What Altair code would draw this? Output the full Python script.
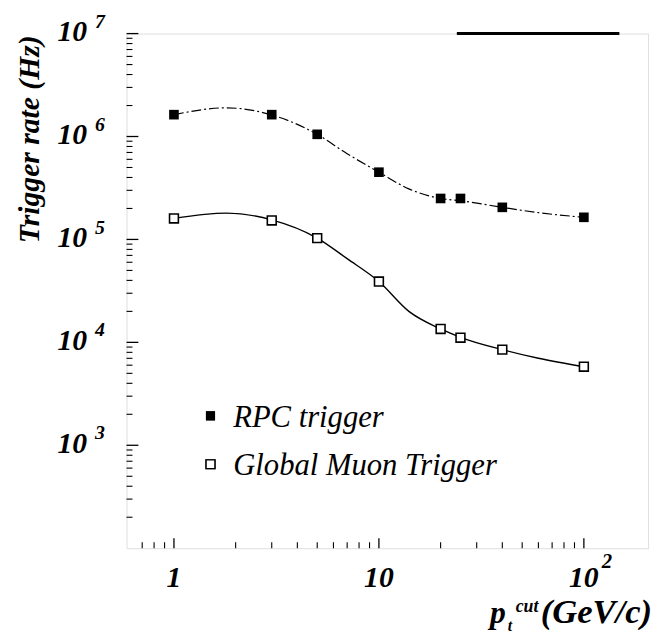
import altair as alt
import pandas as pd

# ---- data ----
pt_cut = [1, 3, 5, 10, 20, 25, 40, 100]
rpc_rate = [1.63e6, 1.63e6, 1.05e6, 4.5e5, 2.5e5, 2.5e5, 2.05e5, 1.64e5]
gmt_rate = [1.6e5, 1.53e5, 1.03e5, 3.9e4, 1.35e4, 1.11e4, 8.5e3, 5.8e3]

# smooth fitted curves
curve_x = [1, 1.8, 3, 5, 7, 10, 14, 20, 25, 40, 60, 100]
rpc_curve = [1.63e6, 1.9e6, 1.62e6, 1.05e6, 6.8e5, 4.5e5, 3.1e5, 2.5e5, 2.38e5, 2.05e5, 1.82e5, 1.64e5]
gmt_curve = [1.6e5, 1.8e5, 1.55e5, 1.03e5, 6.5e4, 3.9e4, 2.0e4, 1.35e4, 1.12e4, 8.5e3, 7.0e3, 5.8e3]

series_names = ["RPC trigger", "Global Muon Trigger"]

y_major = [1e3, 1e4, 1e5, 1e6, 1e7]
y_exp = ["3", "4", "5", "6", "7"]
y_minor = [m * 10 ** d for d in range(2, 7) for m in range(2, 10)]

x_major = [1, 10, 100]
x_base = ["1", "10", "10"]
x_exp = ["", "", "2"]
x_minor = [0.7, 0.8, 0.9] + [m * 10 ** d for d in range(0, 2) for m in range(2, 10)]

top_bar = [24, 149]

FONT = "Liberation Serif"
xs = alt.Scale(type="log", domain=[0.587, 205.7], nice=False)
ys = alt.Scale(type="log", domain=[100, 1e7], nice=False)

pts = pd.DataFrame({"x": pt_cut, "rpc": rpc_rate, "gmt": gmt_rate})
crv = pd.DataFrame({"x": curve_x, "rpc": rpc_curve, "gmt": gmt_curve})

X = alt.X("x:Q", scale=xs, axis=None)

rpc_line = alt.Chart(crv).mark_line(
    color="black", strokeWidth=1.2, strokeDash=[10, 3, 2, 3], interpolate="monotone"
).encode(x=X, y=alt.Y("rpc:Q", scale=ys, axis=None))
gmt_line = alt.Chart(crv).mark_line(
    color="black", strokeWidth=1.4, interpolate="monotone"
).encode(x=X, y=alt.Y("gmt:Q", scale=ys, axis=None))

rpc_pts = alt.Chart(pts).mark_point(
    shape="square", filled=True, color="black", size=95, opacity=1
).encode(x=X, y=alt.Y("rpc:Q", scale=ys, axis=None))
gmt_pts = alt.Chart(pts).mark_point(
    shape="square", filled=True, fill="white", stroke="black", strokeWidth=1.6, size=80, opacity=1
).encode(x=X, y=alt.Y("gmt:Q", scale=ys, axis=None))

# ticks drawn inside the frame
ymaj = pd.DataFrame({"v": y_major, "e": y_exp})
ymin = pd.DataFrame({"v": y_minor})
xmaj = pd.DataFrame({"v": x_major, "b": x_base, "e": x_exp})
xmin = pd.DataFrame({"v": x_minor})

ytick_major = alt.Chart(ymaj).mark_rule(color="black", strokeWidth=1.3).encode(
    y=alt.Y("v:Q", scale=ys, axis=None), x=alt.value(0), x2=alt.value(12))
ytick_minor = alt.Chart(ymin).mark_rule(color="black", strokeWidth=1.1).encode(
    y=alt.Y("v:Q", scale=ys, axis=None), x=alt.value(0), x2=alt.value(6))
xtick_major = alt.Chart(xmaj).mark_rule(color="black", strokeWidth=1.3).encode(
    x=alt.X("v:Q", scale=xs, axis=None), y=alt.value(521), y2=alt.value(511))
xtick_minor = alt.Chart(xmin).mark_rule(color="black", strokeWidth=1.1).encode(
    x=alt.X("v:Q", scale=xs, axis=None), y=alt.value(521), y2=alt.value(515))

# tick labels
ylab = alt.Chart(ymaj).mark_text(
    font=FONT, fontSize=30, fontStyle="italic", fontWeight="bold", align="right", baseline="middle", dy=-1
).encode(y=alt.Y("v:Q", scale=ys, axis=None), x=alt.value(-40), text=alt.value("10"))
yexp = alt.Chart(ymaj).mark_text(
    font=FONT, fontSize=20, fontStyle="italic", fontWeight="bold", align="left", baseline="middle", dy=-12
).encode(y=alt.Y("v:Q", scale=ys, axis=None), x=alt.value(-32), text="e:N")

xlab = alt.Chart(xmaj).mark_text(
    font=FONT, fontSize=30, fontStyle="italic", fontWeight="bold", align="center", baseline="middle"
).encode(x=alt.X("v:Q", scale=xs, axis=None), y=alt.value(551), text="b:N")
xexp = alt.Chart(xmaj).mark_text(
    font=FONT, fontSize=21, fontStyle="italic", fontWeight="bold", align="left", baseline="middle", dx=18
).encode(x=alt.X("v:Q", scale=xs, axis=None), y=alt.value(535), text="e:N")

# axis titles
ytitle = alt.Chart(pd.DataFrame({"t": ["Trigger rate (Hz)"]})).mark_text(
    font=FONT, fontSize=30, fontStyle="italic", fontWeight="bold", angle=270, align="center", baseline="middle"
).encode(x=alt.value(-98), y=alt.value(107), text="t:N")

xt_df = pd.DataFrame({"t": ["p"]})
xt_p = alt.Chart(xt_df).mark_text(
    font=FONT, fontSize=32, fontStyle="italic", fontWeight="bold", align="left", baseline="alphabetic"
).encode(x=alt.value(368), y=alt.value(597), text=alt.value("p"))
xt_sub = alt.Chart(xt_df).mark_text(
    font=FONT, fontSize=16, fontStyle="italic", fontWeight="bold", align="left", baseline="alphabetic"
).encode(x=alt.value(386), y=alt.value(605), text=alt.value("t"))
xt_sup = alt.Chart(xt_df).mark_text(
    font=FONT, fontSize=18, fontStyle="italic", fontWeight="bold", align="left", baseline="alphabetic"
).encode(x=alt.value(394), y=alt.value(586), text=alt.value("cut"))
xt_rest = alt.Chart(xt_df).mark_text(
    font=FONT, fontSize=35, fontStyle="italic", fontWeight="bold", align="right", baseline="alphabetic"
).encode(x=alt.value(532), y=alt.value(597), text=alt.value("(GeV/c)"))

# legend inside the plot
leg_df = pd.DataFrame({"name": series_names})
leg_sq1 = alt.Chart(leg_df).mark_point(
    shape="square", filled=True, color="black", size=85, opacity=1
).encode(x=alt.value(85), y=alt.value(387))
leg_sq2 = alt.Chart(leg_df).mark_point(
    shape="square", filled=True, fill="white", stroke="black", strokeWidth=1.4, size=80, opacity=1
).encode(x=alt.value(85), y=alt.value(436))
leg_t1 = alt.Chart(leg_df).transform_filter(alt.datum.name == series_names[0]).mark_text(
    font=FONT, fontSize=31, fontStyle="italic", align="left", baseline="middle"
).encode(x=alt.value(108), y=alt.value(389), text="name:N")
leg_t2 = alt.Chart(leg_df).transform_filter(alt.datum.name == series_names[1]).mark_text(
    font=FONT, fontSize=31, fontStyle="italic", align="left", baseline="middle"
).encode(x=alt.value(108), y=alt.value(438), text="name:N")

# thick segment on the top frame
bar_df = pd.DataFrame({"x1": [top_bar[0]], "x2": [top_bar[1]], "y": [1e7]})
topbar = alt.Chart(bar_df).mark_rule(color="black", strokeWidth=3).encode(
    x=alt.X("x1:Q", scale=xs, axis=None), x2="x2:Q", y=alt.Y("y:Q", scale=ys, axis=None))

chart = alt.layer(
    ytick_minor, ytick_major, xtick_minor, xtick_major, topbar,
    rpc_line, gmt_line, rpc_pts, gmt_pts,
    ylab, yexp, xlab, xexp, ytitle, xt_p, xt_sub, xt_sup, xt_rest,
    leg_sq1, leg_sq2, leg_t1, leg_t2,
).properties(
    width=528, height=521,
    padding={"left": 120, "top": 22, "right": 6, "bottom": 86},
    autosize="none",
).configure_view(stroke="black", strokeWidth=1.5).configure(background="white")

chart.save("out.html", embed_options={"renderer": "svg", "actions": False})
